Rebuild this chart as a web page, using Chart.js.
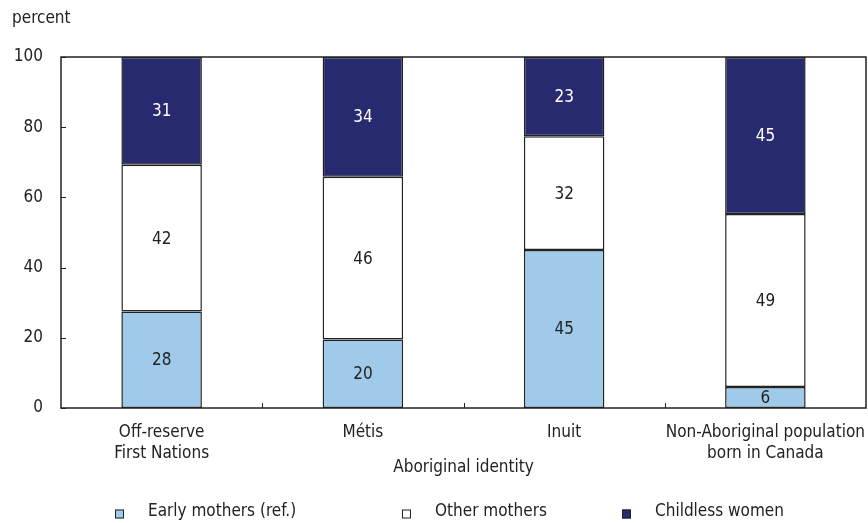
<!DOCTYPE html>
<html>
<head>
<meta charset="utf-8">
<script src="https://cdn.jsdelivr.net/npm/chart.js@4/dist/chart.umd.min.js"></script>
<style>
  html, body { margin: 0; padding: 0; background: #fff; }
  #wrap { width: 868px; height: 523px; position: relative; }
</style>
</head>
<body>
<div id="wrap"><canvas id="myChart" width="868" height="523"></canvas></div>
<script>
/* chart data */
var categories = [['Off-reserve', 'First Nations'], 'Métis', 'Inuit', ['Non-Aboriginal population', 'born in Canada']];
var seriesNames = ['Early mothers (ref.)', 'Other mothers', 'Childless women'];
var earlyMothers = [27.5, 19.5, 45.0, 6.0];
var otherMothers = [41.8, 46.4, 32.4, 49.3];
var childlessWomen = [30.7, 34.1, 22.6, 44.7];
var yTicks = [0, 20, 40, 60, 80, 100];

var FONT = "'DejaVu Sans Condensed', 'Liberation Sans', Arial, sans-serif";
var FSIZE = 17;
var TEXT = '#222';

/* writes the rounded value in the middle of every bar segment */
var barLabels = {
  id: 'barLabels',
  afterDatasetsDraw: function(chart) {
    var ctx = chart.ctx;
    ctx.save();
    ctx.font = FSIZE + 'px ' + FONT;
    ctx.textAlign = 'center';
    ctx.textBaseline = 'middle';
    chart.data.datasets.forEach(function(ds, i) {
      chart.getDatasetMeta(i).data.forEach(function(bar, j) {
        var mid = (bar.y + bar.base) / 2;
        ctx.fillStyle = ds.labelColor;
        ctx.fillText(Math.round(ds.data[j]), bar.x, mid + 1);
      });
    });
    ctx.restore();
  }
};

/* box round the plot, inward ticks, unit label and legend */
var frame = {
  id: 'frame',
  afterDraw: function(chart) {
    var ctx = chart.ctx;
    var a = chart.chartArea;
    var x = chart.scales.x;
    var y = chart.scales.y;
    ctx.save();
    ctx.strokeStyle = '#222';
    ctx.lineWidth = 1.5;
    ctx.strokeRect(a.left, a.top, a.right - a.left, a.bottom - a.top);

    // y ticks point into the plot
    ctx.lineWidth = 1;
    yTicks.forEach(function(v) {
      var py = Math.round(y.getPixelForValue(v)) + 0.5;
      ctx.beginPath();
      ctx.moveTo(a.left, py);
      ctx.lineTo(a.left + 5, py);
      ctx.stroke();
    });
    // x ticks between categories
    for (var i = 1; i < categories.length; i++) {
      var px = Math.round((x.getPixelForValue(i - 1) + x.getPixelForValue(i)) / 2) + 0.5;
      ctx.beginPath();
      ctx.moveTo(px, a.bottom);
      ctx.lineTo(px, a.bottom - 5);
      ctx.stroke();
    }

    ctx.fillStyle = TEXT;
    ctx.font = FSIZE + 'px ' + FONT;
    ctx.textAlign = 'left';
    ctx.textBaseline = 'middle';
    ctx.fillText('percent', 12, 19);

    // legend
    var legendX = [115, 402, 622];
    chart.data.datasets.forEach(function(ds, i) {
      var lx = legendX[i];
      var ly = 514;
      ctx.fillStyle = ds.backgroundColor;
      ctx.fillRect(lx, ly - 4.5, 9, 9);
      ctx.strokeStyle = '#222';
      ctx.lineWidth = 1;
      ctx.strokeRect(lx + 0.5, ly - 4, 8, 8);
      ctx.fillStyle = TEXT;
      ctx.fillText(ds.label, lx + 33, ly - 2);
    });
    ctx.restore();
  }
};

var config = {
  type: 'bar',
  data: {
    labels: categories,
    datasets: [
      { label: seriesNames[0], data: earlyMothers, backgroundColor: '#9fcaea', labelColor: TEXT },
      { label: seriesNames[1], data: otherMothers, backgroundColor: '#ffffff', labelColor: TEXT },
      { label: seriesNames[2], data: childlessWomen, backgroundColor: '#272a6e', labelColor: '#ffffff' }
    ]
  },
  options: {
    responsive: false,
    animation: false,
    layout: { padding: { top: 57, right: 2, left: 0, bottom: 45 } },
    datasets: {
      bar: {
        borderColor: '#222',
        borderWidth: 1.5,
        borderSkipped: false,
        categoryPercentage: 1,
        barPercentage: 0.4
      }
    },
    plugins: {
      legend: { display: false },
      tooltip: { enabled: false }
    },
    scales: {
      x: {
        stacked: true,
        grid: { display: false, drawTicks: false },
        border: { display: false },
        ticks: { color: TEXT, font: { family: FONT, size: FSIZE, lineHeight: 1.22 }, padding: 14, maxRotation: 0, autoSkip: false },
        title: { display: true, text: 'Aboriginal identity', color: TEXT, font: { family: FONT, size: FSIZE }, padding: { top: 2, bottom: 0 } },
        afterFit: function(scale) {
          scale.height = 70;
          scale.paddingLeft = 0;
          scale.paddingRight = 0;
        }
      },
      y: {
        stacked: true,
        min: 0,
        max: 100,
        grid: { display: false, drawTicks: false },
        border: { display: false },
        ticks: { stepSize: 20, color: TEXT, font: { family: FONT, size: FSIZE }, padding: 18 },
        afterFit: function(scale) { scale.width = 61; }
      }
    }
  },
  plugins: [barLabels, frame]
};

window.onload = function() {
  var ctx = document.getElementById('myChart').getContext('2d');
  window.barChart = new Chart(ctx, config);
};
</script>
</body>
</html>
